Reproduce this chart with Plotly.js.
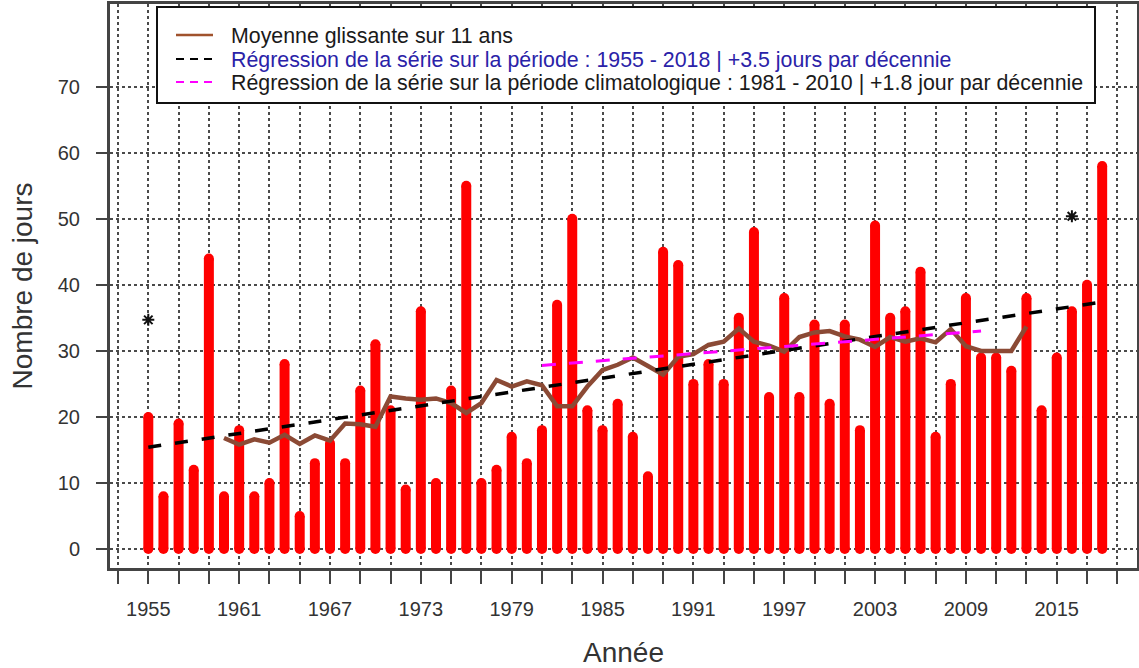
<!DOCTYPE html>
<html>
<head>
<meta charset="utf-8">
<script src="https://cdn.plot.ly/plotly-3.0.1.min.js"></script>
<style>
  html, body { margin: 0; padding: 0; background: #ffffff; }
  #chart { width: 1139px; height: 668px; }
</style>
</head>
<body>
<div id="chart"></div>
<script>
// ---- Data ----
const years = [1955,1956,1957,1958,1959,1960,1961,1962,1963,1964,1965,1966,1967,1968,1969,1970,
  1971,1972,1973,1974,1975,1976,1977,1978,1979,1980,1981,1982,1983,1984,1985,1986,1987,1988,
  1989,1990,1991,1992,1993,1994,1995,1996,1997,1998,1999,2000,2001,2002,2003,2004,2005,2006,
  2007,2008,2009,2010,2011,2012,2013,2014,2015,2016,2017,2018];
const nbJours = [20,8,19,12,44,8,18,8,10,28,5,13,16,13,24,31,
  21,9,36,10,24,55,10,12,17,13,18,37,50,21,18,22,17,11,
  45,43,25,28,25,35,48,23,38,23,34,22,34,18,49,35,36,42,
  17,25,38,29,29,27,38,21,29,36,40,58];

const maYears = [1960,1961,1962,1963,1964,1965,1966,1967,1968,1969,1970,1971,1972,1973,1974,
  1975,1976,1977,1978,1979,1980,1981,1982,1983,1984,1985,1986,1987,1988,1989,1990,1991,1992,
  1993,1994,1995,1996,1997,1998,1999,2000,2001,2002,2003,2004,2005,2006,2007,2008,2009,2010,
  2011,2012,2013];
const maValues = [16.8,15.8,16.6,16.1,17.3,15.9,17.2,16.4,19.0,18.9,18.5,23.1,22.8,22.6,22.8,
  22.1,20.6,22.1,25.6,24.6,25.4,24.8,21.6,21.6,24.6,27.1,27.9,29.0,27.7,26.4,29.1,29.5,30.9,
  31.4,33.4,31.4,30.8,29.9,32.1,32.8,33.0,32.2,31.7,30.6,32.1,31.4,31.9,31.3,33.3,30.7,30.0,
  30.0,30.0,33.7];

const regYears = [1955, 2018];
const regValues = [15.4, 37.4];
const climYears = [1981, 2010];
const climValues = [27.8, 33.0];

const starYears = [1955, 2016];
const starValues = [34.7, 50.4];

const yTicks = [0,10,20,30,40,50,60,70];

const legendLabels = [
  'Moyenne glissante sur 11 ans',
  'Régression de la série sur la période : 1955 - 2018 | +3.5 jours par décennie',
  'Régression de la série sur la période climatologique : 1981 - 2010 | +1.8 jour par décennie'
];
const legendTextColors = ['#1a1a1a', '#2a22a8', '#1a1a1a'];

// ---- Styles ----
const FONT = 'Liberation Sans, Arial, sans-serif';
const MA_COLOR = '#8b4a35';
const baseZeros = years.map(() => 0);

const traces = [
  { type: 'bar', x: years, y: nbJours, width: 0.66,
    marker: { color: '#ff0000', line: { width: 0 } },
    showlegend: false, hoverinfo: 'x+y' },
  { type: 'scatter', mode: 'markers', x: years, y: nbJours,
    marker: { color: '#ff0000', size: 10, line: { width: 0 } },
    showlegend: false, hoverinfo: 'skip' },
  { type: 'scatter', mode: 'markers', x: years, y: baseZeros,
    marker: { color: '#ff0000', size: 10, line: { width: 0 } },
    showlegend: false, hoverinfo: 'skip' },
  { type: 'scatter', mode: 'lines', x: maYears, y: maValues, name: legendLabels[0],
    line: { color: MA_COLOR, width: 4.5 }, showlegend: false },
  { type: 'scatter', mode: 'lines', x: regYears, y: regValues, name: legendLabels[1],
    line: { color: '#000000', width: 3.5, dash: '13px,14px' }, showlegend: false },
  { type: 'scatter', mode: 'lines', x: climYears, y: climValues, name: legendLabels[2],
    line: { color: '#ff00ff', width: 3, dash: '14px,13px' }, showlegend: false },
  { type: 'scatter', mode: 'markers', x: starYears, y: starValues,
    marker: { symbol: 'asterisk-open', size: 10, color: '#111', line: { color: '#111', width: 2 } },
    showlegend: false, hoverinfo: 'skip' }
];

// ---- Hand-built legend box (pixel positions converted to paper coords) ----
const PLOT = { left: 110, right: 1137, top: 4, bottom: 568 };
const px = v => (v - PLOT.left) / (PLOT.right - PLOT.left);
const py = v => (PLOT.bottom - v) / (PLOT.bottom - PLOT.top);

const legendRows = [35, 59, 82];
const sampleStyles = [
  { color: '#a0522d', width: 2.5, dash: 'solid' },
  { color: '#000000', width: 2, dash: '8px,6px' },
  { color: '#ff00ff', width: 2, dash: '8px,6px' }
];

const shapes = [
  { type: 'rect', xref: 'paper', yref: 'paper', layer: 'above',
    x0: px(157), x1: px(1095), y0: py(103), y1: py(7),
    fillcolor: '#ffffff', line: { color: '#111111', width: 2 } }
];
legendRows.forEach((row, i) => {
  shapes.push({ type: 'line', xref: 'paper', yref: 'paper', layer: 'above',
    x0: px(176), x1: px(213), y0: py(row), y1: py(row),
    line: sampleStyles[i] });
});

const annotations = legendRows.map((row, i) => ({
  xref: 'paper', yref: 'paper', x: px(229), y: py(row + 1),
  xanchor: 'left', yanchor: 'middle', showarrow: false,
  text: legendLabels[i],
  font: { family: FONT, size: 21.35, color: legendTextColors[i] }
}));

const gridStyle = { gridcolor: '#4a4a4a', gridwidth: 1.5, griddash: 'dot' };

const layout = {
  width: 1139, height: 668,
  margin: { l: 110, r: 2, t: 4, b: 100, pad: 0 },
  paper_bgcolor: '#ffffff', plot_bgcolor: '#ffffff',
  font: { family: FONT, color: '#333333', size: 20 },
  showlegend: false,
  shapes: shapes,
  annotations: annotations,
  xaxis: {
    range: [1952.47, 2020.30],
    showline: true, linecolor: '#444444', linewidth: 3, mirror: true,
    tickmode: 'linear', tick0: 1955, dtick: 6,
    ticks: 'outside', ticklen: 13, tickwidth: 2, tickcolor: '#444444',
    ticklabelstandoff: 8,
    tickfont: { family: FONT, size: 20, color: '#333333' },
    showgrid: true, ...gridStyle,
    zeroline: false,
    minor: { tick0: 1955, dtick: 2, ticks: 'outside', ticklen: 13, tickwidth: 2,
             tickcolor: '#444444', showgrid: true, ...gridStyle },
    title: { text: 'Année', font: { family: FONT, size: 28, color: '#333333' }, standoff: 25 }
  },
  yaxis: {
    range: [-2.877, 82.53],
    showline: true, linecolor: '#444444', linewidth: 3, mirror: true,
    tickmode: 'array', tickvals: yTicks, ticktext: yTicks.map(String),
    ticks: 'outside', ticklen: 11, tickwidth: 2, tickcolor: '#444444',
    ticklabelstandoff: 12,
    tickfont: { family: FONT, size: 20, color: '#333333' },
    showgrid: true, ...gridStyle,
    zeroline: false,
    title: { text: 'Nombre de jours', font: { family: FONT, size: 28, color: '#333333' }, standoff: 17 }
  },
  barmode: 'overlay',
  hovermode: 'closest'
};

Plotly.newPlot('chart', traces, layout, { displayModeBar: false, responsive: false });
</script>
</body>
</html>
